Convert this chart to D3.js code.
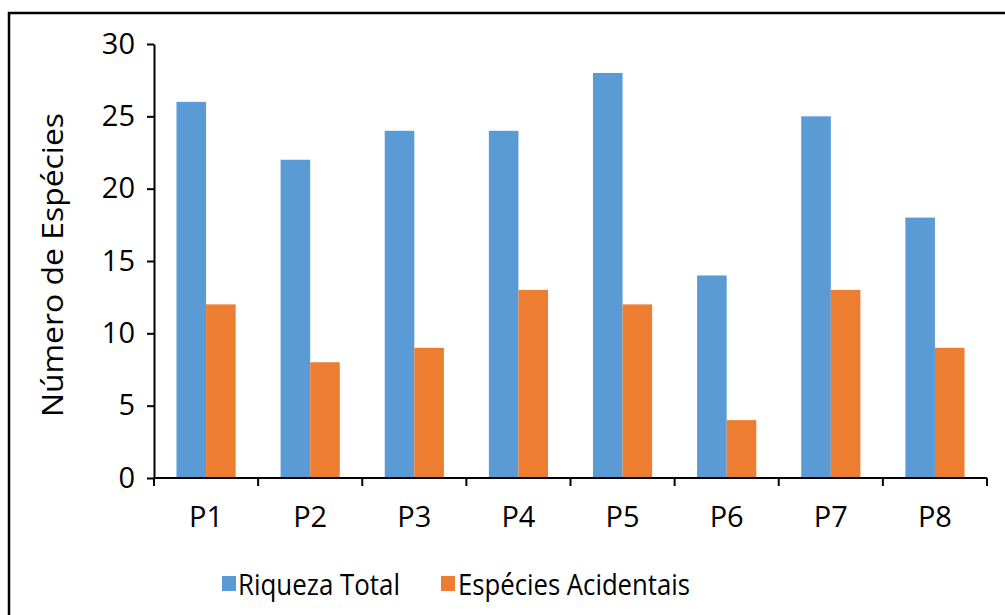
<!DOCTYPE html>
<html>
<head>
<meta charset="utf-8">
<script src="https://cdn.jsdelivr.net/npm/d3@7"></script>
<style>
  html, body { margin: 0; padding: 0; background: #fff; }
  svg { display: block; }
  text { font-family: "Open Sans", "Noto Sans", sans-serif; fill: #000; }
</style>
</head>
<body>
<svg id="chart" width="1005" height="615"></svg>
<script>
const categories = ["P1", "P2", "P3", "P4", "P5", "P6", "P7", "P8"];
const seriesNames = ["Riqueza Total", "Espécies Acidentais"];
const riquezaTotal = [26, 22, 24, 24, 28, 14, 25, 18];
const especiesAcidentais = [12, 8, 9, 13, 12, 4, 13, 9];
const yTicks = [0, 5, 10, 15, 20, 25, 30];
const colors = ["#5B9BD5", "#ED7D31"];
const yTitle = "Número de Espécies";

const seriesValues = [riquezaTotal, especiesAcidentais];
const svg = d3.select("#chart");

// outer frame (right/bottom edges cropped off in the reference)
svg.append("rect")
  .attr("x", 9).attr("y", 13)
  .attr("width", 1020).attr("height", 640)
  .attr("fill", "none").attr("stroke", "#000").attr("stroke-width", 2.5);

const x0 = 154, x1 = 987, yBottom = 478, yTop = 44;

const x = d3.scaleBand().domain(categories).range([x0, x1]).paddingInner(0).paddingOuter(0);
const xs = d3.scaleBand().domain(seriesNames).range([0, x.bandwidth()]).paddingInner(0).paddingOuter(0.76);
const y = d3.scaleLinear().domain([0, 30]).range([yBottom, yTop]);

// bars
const groups = svg.append("g").selectAll("g")
  .data(categories)
  .join("g")
  .attr("transform", d => `translate(${x(d)},0)`);

groups.selectAll("rect")
  .data((c, i) => seriesNames.map((s, k) => ({ s, k, v: seriesValues[k][i] })))
  .join("rect")
  .attr("x", d => xs(d.s))
  .attr("width", xs.bandwidth())
  .attr("y", d => y(d.v))
  .attr("height", d => y(0) - y(d.v))
  .attr("fill", d => colors[d.k]);

// y axis
const yAxis = svg.append("g")
  .attr("transform", `translate(${x0},0)`)
  .call(d3.axisLeft(y).tickValues(yTicks).tickSize(7).tickPadding(12).tickSizeOuter(0));
yAxis.select(".domain").attr("stroke", "#000").attr("stroke-width", 2);
yAxis.selectAll(".tick line").attr("stroke", "#000").attr("stroke-width", 2);
yAxis.selectAll(".tick text").attr("font-size", 29).attr("font-family", "Open Sans").attr("fill", "#000");

// x axis with category boundary ticks
const xAxis = svg.append("g").attr("transform", `translate(0,${yBottom})`);
xAxis.append("line").attr("x1", x0).attr("x2", x1).attr("y1", 0).attr("y2", 0)
  .attr("stroke", "#000").attr("stroke-width", 2);
const bounds = categories.map(c => x(c)).concat([x(categories[categories.length - 1]) + x.bandwidth()]);
xAxis.selectAll("line.bt").data(bounds).join("line").attr("class", "bt")
  .attr("x1", d => d).attr("x2", d => d).attr("y1", 0).attr("y2", 8)
  .attr("stroke", "#000").attr("stroke-width", 2);
xAxis.selectAll("text").data(categories).join("text")
  .attr("x", d => x(d) + x.bandwidth() / 2)
  .attr("y", 49)
  .attr("text-anchor", "middle")
  .attr("font-size", 29)
  .text(d => d);

// y title
svg.append("text")
  .attr("transform", `translate(63,265) rotate(-90)`)
  .attr("text-anchor", "middle")
  .attr("font-size", 29)
  .attr("textLength", 304)
  .attr("lengthAdjust", "spacingAndGlyphs")
  .text(yTitle);

// legend
const legendItems = [
  { sx: 222, tx: 238, tl: 162 },
  { sx: 441, tx: 458, tl: 232 }
];
const legend = svg.append("g");
seriesNames.forEach((s, k) => {
  legend.append("rect")
    .attr("x", legendItems[k].sx).attr("y", 576)
    .attr("width", 14).attr("height", 15)
    .attr("fill", colors[k]);
  legend.append("text")
    .attr("x", legendItems[k].tx).attr("y", 595)
    .attr("font-size", 29)
    .attr("textLength", legendItems[k].tl)
    .attr("lengthAdjust", "spacingAndGlyphs")
    .text(s);
});
</script>
</body>
</html>
